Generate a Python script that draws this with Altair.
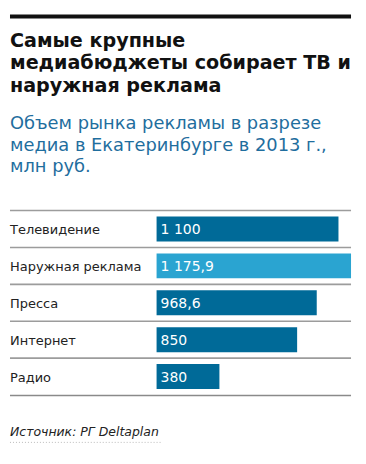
import altair as alt
import pandas as pd

categories = ["Телевидение", "Наружная реклама", "Пресса", "Интернет", "Радио"]
values = [1100, 1175.9, 968.6, 850, 380]
value_labels = ["1 100", "1 175,9", "968,6", "850", "380"]
highlight = [False, True, False, False, False]

title_lines = ["Самые крупные", "медиабюджеты собирает ТВ и", "наружная реклама"]
subtitle_lines = ["Объем рынка рекламы в разрезе", "медиа в Екатеринбурге в 2013 г.,", "млн руб."]
source_text = "Источник: РГ Deltaplan"

df = pd.DataFrame({"cat": categories, "val": values, "lab": value_labels, "hl": highlight})
tdf = pd.DataFrame({"t": title_lines, "i": list(range(len(title_lines)))})
sdf = pd.DataFrame({"t": subtitle_lines, "i": list(range(len(subtitle_lines)))})

W, H = 350, 440
FONT = "DejaVu Sans"

xs = alt.Scale(domain=[0, 1175.9], range=[148, 343])
ys = alt.Scale(domain=categories, range=[202.5, 387.5], paddingInner=0.324, paddingOuter=0.162)

base = alt.Chart(df)

bars = base.mark_bar(cornerRadius=0).encode(
    x=alt.X("val:Q", scale=xs, axis=None),
    x2=alt.datum(0),
    y=alt.Y("cat:N", scale=ys, axis=None, sort=categories),
    color=alt.Color("hl:N", scale=alt.Scale(domain=[False, True], range=["#006a98", "#2aa4d1"]), legend=None),
)

seps = base.mark_rule(color="#9c9c9c", strokeWidth=1.6, yOffset=-6).encode(
    y=alt.Y("cat:N", scale=ys, axis=None, sort=categories, bandPosition=0),
    x=alt.value(1), x2=alt.value(343),
)
bottom = alt.Chart(pd.DataFrame({"a": [0]})).mark_rule(color="#8a8a8a", strokeWidth=1.6).encode(
    y=alt.value(388), x=alt.value(1), x2=alt.value(343)
)
toprule = alt.Chart(pd.DataFrame({"a": [0]})).mark_rule(color="#111111", strokeWidth=4).encode(
    y=alt.value(8), x=alt.value(1), x2=alt.value(343)
)

cat_labels = base.mark_text(align="left", baseline="middle", font=FONT, fontSize=13, color="#222222", dy=1).encode(
    y=alt.Y("cat:N", scale=ys, axis=None, sort=categories),
    x=alt.value(1),
    text="cat:N",
)
val_labels = base.mark_text(align="left", baseline="middle", font=FONT, fontSize=14, color="white", dx=4, dy=1).encode(
    y=alt.Y("cat:N", scale=ys, axis=None, sort=categories),
    x=alt.X("zero:Q", scale=xs, axis=None),
    text="lab:N",
).transform_calculate(zero="0")

title = alt.Chart(tdf).mark_text(align="left", baseline="alphabetic", font=FONT, fontSize=19.2, fontWeight="bold", color="#111111").encode(
    x=alt.value(1),
    y=alt.Y("i:Q", scale=alt.Scale(domain=[0, 2], range=[38, 84]), axis=None),
    text="t:N",
)
subtitle = alt.Chart(sdf).mark_text(align="left", baseline="alphabetic", font=FONT, fontSize=17.9, color="#1f6e9e").encode(
    x=alt.value(1),
    y=alt.Y("i:Q", scale=alt.Scale(domain=[0, 2], range=[121, 164]), axis=None),
    text="t:N",
)
source = alt.Chart(pd.DataFrame({"t": [source_text]})).mark_text(
    align="left", baseline="alphabetic", font=FONT, fontSize=12.5, fontStyle="italic", color="#222222"
).encode(x=alt.value(1), y=alt.value(429), text="t:N")
src_line = alt.Chart(pd.DataFrame({"a": [0]})).mark_rule(color="#bbbbbb", strokeWidth=1, strokeDash=[1, 2]).encode(
    y=alt.value(435), x=alt.value(1), x2=alt.value(152)
)

chart = alt.layer(toprule, title, subtitle, seps, bottom, bars, cat_labels, val_labels, source, src_line).resolve_scale(
    y="independent", x="shared", color="independent"
).properties(
    width=W, height=H, padding=0
).configure_view(stroke=None)

chart.save("out.html", embed_options={"renderer": "svg", "actions": False})
